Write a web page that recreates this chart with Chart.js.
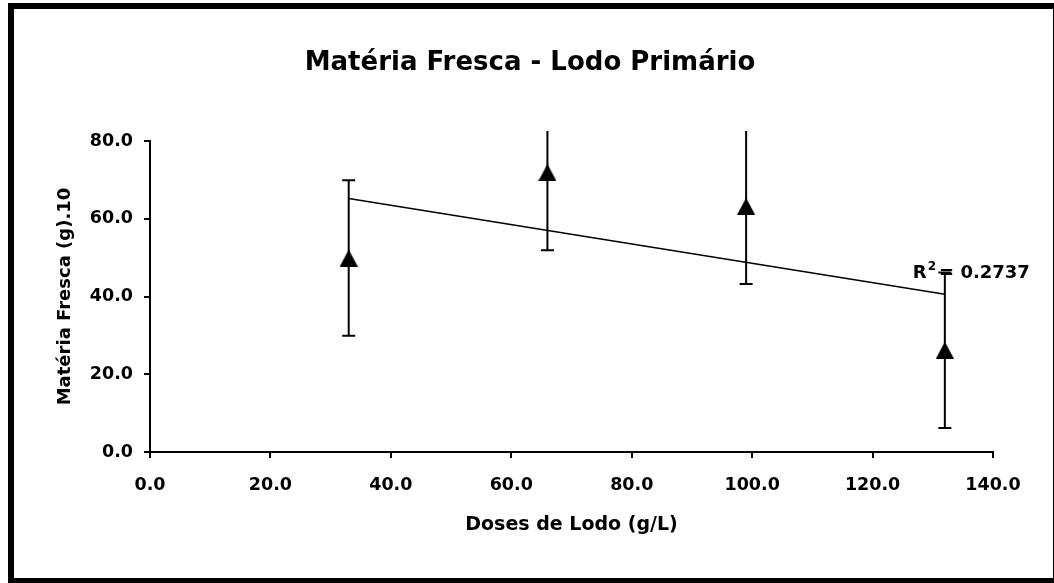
<!DOCTYPE html>
<html>
<head>
<meta charset="utf-8">
<script src="https://cdn.jsdelivr.net/npm/chart.js@4"></script>
<style>
  html, body { margin: 0; padding: 0; background: #fff; }
  #box { width: 1054px; height: 583px; position: relative; }
</style>
</head>
<body>
<div id="box"><canvas id="grafico"></canvas></div>
<script>
// dados
const doses = [33, 66, 99, 132];
const materiaFresca = [49.9, 71.9, 63.2, 26.2];
const erros = [20, 20, 20, 20];
// linha de tendência (extremos)
const tendenciaX = [33, 132];
const tendenciaY = [65.2, 40.6];
const textoR2 = '0.2737';
const ticksX = [0, 20, 40, 60, 80, 100, 120, 140];
const ticksY = [0, 20, 40, 60, 80];

const fonte = 'DejaVu Sans';
Chart.defaults.font.family = fonte;
Chart.defaults.color = '#000';

// marcador triangular centrado no ponto
const tri = document.createElement('canvas');
tri.width = 18; tri.height = 17;
const tctx = tri.getContext('2d');
tctx.fillStyle = '#000';
tctx.beginPath();
tctx.moveTo(9, 0);
tctx.lineTo(18, 17);
tctx.lineTo(0, 17);
tctx.closePath();
tctx.fill();

// moldura preta em volta do gráfico
const moldura = {
  id: 'moldura',
  afterDraw(chart) {
    const c = chart.ctx;
    c.save();
    c.strokeStyle = '#000';
    c.lineWidth = 6;
    c.strokeRect(11, 6, 1045, 575);
    c.restore();
  }
};

// barras de erro
const barrasErro = {
  id: 'barrasErro',
  beforeDatasetsDraw(chart) {
    const c = chart.ctx;
    const xs = chart.scales.x, ys = chart.scales.y;
    const topo = chart.chartArea.top - 10;
    c.save();
    c.strokeStyle = '#000';
    c.lineWidth = 2;
    doses.forEach((d, i) => {
      const px = xs.getPixelForValue(d);
      let y1 = ys.getPixelForValue(materiaFresca[i] + erros[i]);
      const y2 = ys.getPixelForValue(materiaFresca[i] - erros[i]);
      const cortado = y1 < topo;
      if (cortado) y1 = topo;
      c.beginPath();
      c.moveTo(px, y1); c.lineTo(px, y2);
      if (!cortado) { c.moveTo(px - 6.5, y1); c.lineTo(px + 6.5, y1); }
      c.moveTo(px - 6.5, y2); c.lineTo(px + 6.5, y2);
      c.stroke();
    });
    c.restore();
  }
};

// rótulo R²
const rotuloR2 = {
  id: 'rotuloR2',
  afterDatasetsDraw(chart) {
    const c = chart.ctx;
    const px = chart.scales.x.getPixelForValue(tendenciaX[1]);
    const py = chart.scales.y.getPixelForValue(tendenciaY[1]);
    const x0 = px - 32, base = py - 16;
    c.save();
    c.fillStyle = '#000';
    c.textAlign = 'left';
    c.textBaseline = 'alphabetic';
    c.font = 'bold 18px ' + fonte;
    c.fillText('R', x0, base);
    const wR = c.measureText('R').width;
    c.font = 'bold 12px ' + fonte;
    c.fillText('2', x0 + wR + 1, base - 8);
    const w2 = c.measureText('2').width;
    c.font = 'bold 18px ' + fonte;
    c.fillText('= ' + textoR2, x0 + wR + w2 + 4, base);
    c.restore();
  }
};

const ctx = document.getElementById('grafico').getContext('2d');
new Chart(ctx, {
  type: 'scatter',
  data: {
    datasets: [{
      label: 'Matéria Fresca',
      data: doses.map((d, i) => ({ x: d, y: materiaFresca[i] })),
      pointStyle: tri,
      pointRadius: 9,
      showLine: false
    }, {
      label: 'Tendência',
      data: tendenciaX.map((d, i) => ({ x: d, y: tendenciaY[i] })),
      showLine: true,
      pointRadius: 0,
      borderColor: '#000',
      borderWidth: 1.5,
      fill: false
    }]
  },
  options: {
    responsive: true,
    maintainAspectRatio: false,
    animation: false,
    layout: { padding: { left: 6, right: 0, top: 0, bottom: 0 } },
    plugins: {
      legend: { display: false },
      tooltip: { enabled: false },
      title: {
        display: true,
        text: 'Matéria Fresca - Lodo Primário',
        color: '#000',
        font: { size: 26, weight: 'bold', family: fonte, lineHeight: 1.2 },
        padding: { top: 48, bottom: 61.8 }
      }
    },
    scales: {
      x: {
        type: 'linear',
        min: 0, max: 140,
        afterBuildTicks(s) { s.ticks = ticksX.map(v => ({ value: v })); },
        afterFit(s) { s.height = 131; },
        border: { color: '#000', width: 2 },
        grid: { drawOnChartArea: false, drawTicks: true, tickLength: 6, color: '#000', lineWidth: 2 },
        ticks: {
          padding: 17,
          font: { size: 17.5, weight: 'bold' },
          callback: v => v.toFixed(1)
        },
        title: {
          display: true,
          text: 'Doses de Lodo (g/L)',
          font: { size: 19, weight: 'bold', lineHeight: 1.2 },
          padding: { top: 0, bottom: 47 }
        }
      },
      y: {
        min: 0, max: 80,
        afterBuildTicks(s) { s.ticks = ticksY.map(v => ({ value: v })); },
        afterFit(s) { s.width = 144; },
        border: { color: '#000', width: 2 },
        grid: { drawOnChartArea: false, drawTicks: true, tickLength: 6, color: '#000', lineWidth: 2 },
        ticks: {
          padding: 11,
          font: { size: 17.5, weight: 'bold' },
          callback: v => v.toFixed(1)
        },
        title: {
          display: true,
          text: 'Matéria Fresca (g).10',
          font: { size: 18, weight: 'bold', lineHeight: 1.2 },
          padding: { top: 49, bottom: 0 }
        }
      },
      // eixo vazio só para reservar a margem direita
      margem: {
        position: 'right',
        min: 0, max: 1,
        afterFit(s) { s.width = 61; },
        border: { display: false },
        grid: { display: false },
        ticks: { display: false }
      }
    }
  },
  plugins: [moldura, barrasErro, rotuloR2]
});
</script>
</body>
</html>
